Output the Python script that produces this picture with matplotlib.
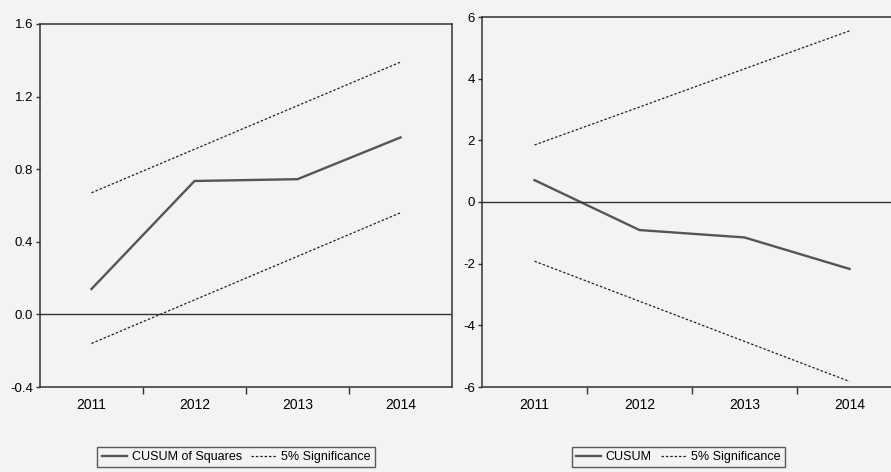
import matplotlib
matplotlib.use("Agg")
import matplotlib.pyplot as plt
from matplotlib import font_manager

years = ["2011", "2012", "2013", "2014"]

# CUSUM of squares test (left panel)
cusumsq = [0.14, 0.735, 0.745, 0.975]
cusumsq_upper = [0.67, 0.91, 1.15, 1.39]
cusumsq_lower = [-0.16, 0.08, 0.32, 0.56]

# CUSUM test (right panel)
cusum = [0.71, -0.91, -1.15, -2.17]
cusum_upper = [1.85, 3.08, 4.32, 5.55]
cusum_lower = [-1.92, -3.22, -4.52, -5.82]

names = {f.name for f in font_manager.fontManager.ttflist}
narrow = "Liberation Sans Narrow" if "Liberation Sans Narrow" in names else "Liberation Sans"
plt.rcParams["font.family"] = [narrow, "DejaVu Sans"]
plt.rcParams["font.size"] = 10

bg = "#f3f3f1"
fig = plt.figure(figsize=(8.91, 4.72), dpi=100, facecolor=bg)

ax1 = fig.add_axes([40 / 891, 85 / 472, 412 / 891, 363 / 472], facecolor=bg)
ax2 = fig.add_axes([482 / 891, 85 / 472, 420 / 891, 370 / 472], facecolor=bg)


def draw(ax, main, upper, lower, label, ylim, yticks, yfmt):
    x = range(len(years))
    ax.plot(x, main, color="#555555", lw=1.7, label=label)
    ax.plot(x, upper, color="#222222", lw=0.9, ls=(0, (2, 1.5)), label="5% Significance")
    ax.plot(x, lower, color="#222222", lw=0.9, ls=(0, (2, 1.5)))
    ax.axhline(0, color="#333333", lw=1.0)
    ax.set_xlim(-0.5, len(years) - 0.5)
    ax.set_ylim(*ylim)
    ax.set_yticks(yticks)
    ax.set_yticklabels([yfmt(v) for v in yticks])
    # year labels between the minor ticks
    ax.set_xticks([i + 0.5 for i in range(len(years) - 1)])
    ax.set_xticklabels([])
    ax.set_xticks(list(x), minor=True)
    ax.set_xticklabels(years, minor=True)
    ax.tick_params(axis="x", which="minor", length=0, pad=8, labelsize=10)
    ax.tick_params(axis="x", which="major", length=5, width=1, color="#333333", direction="out")
    ax.tick_params(axis="y", length=3, width=1, color="#333333", labelsize=9.5, pad=2)
    for s in ax.spines.values():
        s.set_color("#333333")
        s.set_linewidth(1.1)


draw(ax1, cusumsq, cusumsq_upper, cusumsq_lower, "CUSUM of Squares",
     (-0.4, 1.6), [-0.4, 0.0, 0.4, 0.8, 1.2, 1.6], lambda v: f"{v:.1f}")
draw(ax2, cusum, cusum_upper, cusum_lower, "CUSUM",
     (-6, 6), [-6, -4, -2, 0, 2, 4, 6], lambda v: f"{v:d}")

for ax, cx in [(ax1, 236 / 891), (ax2, 678 / 891)]:
    leg = fig.legend(*ax.get_legend_handles_labels(), loc="center",
                     bbox_to_anchor=(cx, 15 / 472), ncol=2, frameon=True,
                     fancybox=False, edgecolor="#333333", facecolor=bg,
                     fontsize=9, handlelength=2.0, handletextpad=0.4,
                     columnspacing=0.7, borderpad=0.35)
    leg.get_frame().set_linewidth(1.0)

fig.savefig("out.png", dpi=100, facecolor=bg)
